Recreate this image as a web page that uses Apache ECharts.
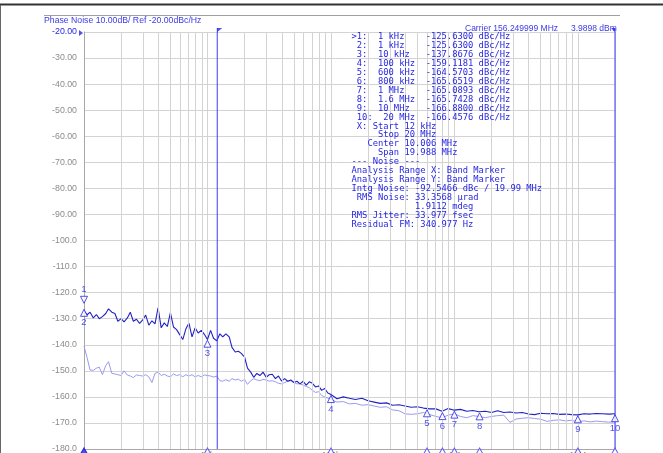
<!DOCTYPE html>
<html><head><meta charset="utf-8">
<script src="https://cdn.jsdelivr.net/npm/echarts@6/dist/echarts.min.js"></script>
<style>html,body{margin:0;padding:0;background:#fff;overflow:hidden}#c{width:663px;height:453px}</style>
</head><body><div id="c"></div>
<script>
// Offset frequencies in kHz
const freqs = [
 1.00,1.06,1.12,1.19,1.26,1.33,1.41,1.50,1.58,1.68,1.78,1.88,2.00,2.11,2.24,2.37,2.51,2.66,2.82,2.99,
 3.16,3.35,3.55,3.76,3.98,4.22,4.47,4.73,5.01,5.31,5.62,5.96,6.31,6.68,7.08,7.50,7.94,8.41,8.91,9.44,
 10.0,10.6,11.2,11.9,12.6,13.3,14.1,15.0,15.8,16.8,17.8,18.8,20.0,21.1,22.4,23.7,25.1,26.6,28.2,29.9,
 31.6,33.5,35.5,37.6,39.8,42.2,44.7,47.3,50.1,53.1,56.2,59.6,63.1,66.8,70.8,75.0,79.4,84.1,89.1,94.4,
 100,112,126,141,158,178,200,224,251,282,316,355,398,447,501,562,631,708,794,891,
 1000,1120,1260,1410,1580,1780,2000,2240,2510,2820,3160,3550,3980,4470,5010,5620,6310,7080,7940,8910,
 10000,11200,12600,14100,15800,17800,20000
];
// Measured trace (dBc/Hz)
const mainTrace = [
 -127.0,-128.5,-127.5,-129.7,-128.4,-130.0,-129.2,-128.0,-126.2,-127.5,-128.0,-131.0,-130.0,-131.2,-129.8,-127.5,-131.0,-130.2,-131.8,-130.5,
 -128.6,-132.5,-130.8,-132.0,-125.8,-133.5,-131.6,-133.0,-127.7,-133.2,-134.2,-136.1,-138.0,-134.0,-131.7,-137.0,-133.5,-135.5,-134.5,-136.0,
 -138.0,-134.5,-137.5,-138.5,-135.8,-137.0,-135.8,-137.0,-141.0,-142.8,-142.5,-143.3,-144.8,-149.0,-150.5,-152.5,-151.0,-151.8,-150.5,-152.5,
 -151.5,-151.3,-153.0,-152.0,-153.9,-153.0,-154.0,-153.5,-154.5,-154.0,-155.0,-154.0,-155.5,-154.2,-154.8,-156.2,-155.8,-157.5,-156.8,-158.5,
 -159.1,-160.7,-160.0,-160.5,-161.0,-160.5,-161.5,-162.0,-162.5,-162.3,-163.2,-163.0,-163.5,-164.0,-163.8,-164.3,-164.6,-164.6,-165.5,-164.5,
 -165.1,-164.8,-165.5,-165.2,-165.7,-165.5,-166.0,-165.3,-166.0,-165.8,-166.2,-166.0,-166.6,-166.8,-166.3,-166.5,-166.4,-166.7,-166.6,-166.8,
 -166.9,-166.5,-166.6,-166.4,-166.5,-166.6,-166.5
];
// Reference (memory) trace (dBc/Hz)
const refTrace = [
 -140.5,-145.0,-149.7,-149.8,-149.0,-148.6,-151.5,-148.0,-146.5,-151.0,-151.2,-151.5,-151.8,-150.0,-151.6,-152.0,-152.6,-151.6,-151.8,-152.0,
 -151.5,-152.3,-154.5,-151.0,-150.5,-151.8,-151.3,-152.0,-152.3,-151.2,-151.8,-151.5,-152.3,-151.5,-152.0,-151.5,-152.3,-151.8,-152.3,-151.6,
 -151.8,-152.0,-152.4,-152.0,-153.8,-154.0,-153.4,-154.0,-153.0,-153.5,-153.2,-154.0,-153.3,-155.2,-153.8,-153.0,-153.5,-153.8,-153.3,-153.5,
 -154.0,-153.8,-154.2,-154.8,-155.0,-154.5,-154.0,-153.8,-154.5,-155.0,-155.0,-155.5,-156.0,-156.5,-157.5,-158.3,-158.0,-159.5,-160.0,-160.5,
 -161.0,-162.0,-161.8,-162.7,-162.5,-163.2,-163.0,-163.5,-164.0,-163.8,-165.0,-165.3,-166.5,-166.7,-166.5,-166.0,-166.8,-167.5,-168.0,-167.0,
 -166.5,-167.5,-168.0,-167.2,-167.5,-168.0,-167.5,-167.2,-167.0,-169.8,-168.5,-168.2,-168.0,-168.3,-168.6,-169.4,-169.0,-168.8,-169.2,-169.0,
 -169.5,-169.2,-169.6,-169.3,-169.5,-169.7,-169.6
];
const markerFreqs = [1,1,10,100,600,800,1000,1600,10000,20000];
const markerValues = [-125.63,-125.63,-137.8676,-159.1181,-164.5703,-165.6519,-165.0893,-165.7428,-166.88,-166.4576];
const markerFreqLabels = ['1 kHz','1 kHz','10 kHz','100 kHz','600 kHz','800 kHz','1 MHz','1.6 MHz','10 MHz','20 MHz'];
const xTickLabels = {1:'1k',10:'10k',100:'100k',1000:'1M',10000:'10M'};
const bandStart = 12, bandStop = 20000;
const noiseLines = [
 ' X: Start 12 kHz',
 '     Stop 20 MHz',
 '   Center 10.006 MHz',
 '     Span 19.988 MHz',
 '--- Noise ---',
 'Analysis Range X: Band Marker',
 'Analysis Range Y: Band Marker',
 'Intg Noise: -92.5466 dBc / 19.99 MHz',
 ' RMS Noise: 33.3568 \u00b5rad',
 '            1.9112 mdeg',
 'RMS Jitter: 33.977 fsec',
 'Residual FM: 340.977 Hz'
];
const headerText = 'Phase Noise 10.00dB/ Ref -20.00dBc/Hz';
const carrierText = 'Carrier 156.249999 MHz';
const powerText = '3.9898 dBm';

const BLUE = '#2727e2';
const BAND = '#3b3bff';
const GRID = '#d3d3d3';
const SANS = '"Liberation Sans", Arial, sans-serif';

const markerLines = markerFreqs.map((f, i) => {
  const pre = (i === 0 ? '>' : ' ') + (i + 1) + ':';
  return (pre + '  ' + markerFreqLabels[i]).padEnd(14) + markerValues[i].toFixed(4) + ' dBc/Hz';
});
const infoText = markerLines.concat(noiseLines).join('\n');

const minorFreqs = [];
[1, 10, 100, 1000, 10000].forEach(d => { for (let m = 2; m <= 9; m++) { if (m * d < 20000) minorFreqs.push(m * d); } });

const chart = echarts.init(document.getElementById('c'), null, {renderer: 'canvas'});
const upTri = 'path://M5,0 L10,10 L0,10 Z';
const downTri = 'path://M0,0 L10,0 L5,10 Z';

const bandSeries = [bandStart, bandStop].map(f => ({
  type: 'line', name: 'band', z: 5, silent: true, clip: false,
  data: [[f, -180], [f, -20]], showSymbol: false, symbol: 'none',
  lineStyle: {color: BAND, width: 1}
}));

chart.setOption({
  animation: false,
  backgroundColor: '#fff',
  grid: {left: 84, right: 48, top: 32, bottom: 4, containLabel: false, outerBoundsMode: 'none'},
  xAxis: {
    type: 'log', logBase: 10, min: 1, max: 20000,
    axisLine: {show: true, lineStyle: {color: '#a8a8a8'}},
    axisTick: {show: false},
    splitLine: {show: true, lineStyle: {color: GRID, width: 1}},
    minorTick: {show: false}, minorSplitLine: {show: false},
    axisLabel: {show: true, margin: 2, color: '#888', fontFamily: SANS, fontSize: 8.5,
      formatter: v => xTickLabels[Math.round(v)] || ''}
  },
  yAxis: {
    type: 'value', min: -180, max: -20, interval: 10,
    axisLine: {show: true, lineStyle: {color: '#a8a8a8'}},
    axisTick: {show: false},
    splitLine: {show: true, lineStyle: {color: GRID, width: 1}},
    axisLabel: {margin: 7, fontFamily: SANS, fontSize: 8.8,
      color: v => (Number(v) === -20 ? BLUE : '#8c8c8c'),
      formatter: v => (v >= -90 ? v.toFixed(2) : v.toFixed(1))}
  },
  series: [
    {type: 'line', name: 'grid', data: [], z: 1, silent: true,
     markLine: {silent: true, symbol: ['none', 'none'], label: {show: false},
       lineStyle: {color: GRID, width: 1, type: 'solid'},
       data: minorFreqs.map(f => ({xAxis: f}))}},
    {type: 'line', name: 'Memory', data: freqs.map((f, i) => [f, refTrace[i]]), z: 3,
     showSymbol: false, symbol: 'none', lineStyle: {color: '#9a9af2', width: 1}},
    {type: 'line', name: 'Data', data: freqs.map((f, i) => [f, mainTrace[i]]), z: 4,
     showSymbol: false, symbol: 'none', lineStyle: {color: '#2222c4', width: 1.1}},
    ...bandSeries,
    {type: 'scatter', name: 'markers', z: 6, clip: false, silent: true,
     data: markerFreqs.map((f, i) => ({
       value: [f, markerValues[i]],
       symbol: i === 0 ? downTri : upTri,
       symbolOffset: i === 0 ? [0, -7.5] : [0, i === 1 ? 5.5 : 4.5],
       label: {position: i === 0 ? 'top' : 'bottom'}
     })),
     symbolSize: [7, 7],
     itemStyle: {color: '#fff', borderColor: BLUE, borderWidth: 1},
     label: {show: true, formatter: p => String(p.dataIndex + 1), color: BLUE,
       fontFamily: SANS, fontSize: 9.5, distance: 1}},
    {type: 'scatter', name: 'axisMarkers', z: 6, clip: false, silent: true,
     data: markerFreqs.map((f, i) => ({
       value: [f, -180],
       itemStyle: i === 0 ? {color: BLUE, borderColor: BLUE} : {color: '#fff', borderColor: BAND}
     })).reverse(),
     symbol: upTri, symbolSize: [9, 8], symbolOffset: [0, 3],
     itemStyle: {borderWidth: 1}},
    {type: 'scatter', name: 'flags', z: 7, clip: false, silent: true,
     data: [
       {value: [1, -20], symbol: 'path://M0,0 L8,5 L0,10 Z', symbolSize: [4, 6], symbolOffset: [-3, 1]},
       {value: [bandStart, -20], symbol: 'path://M0,0 L10,0 L0,8 Z', symbolSize: [5, 4], symbolOffset: [2.5, -2]},
       {value: [bandStop, -20], symbol: 'path://M10,0 L0,0 L10,8 Z', symbolSize: [4, 4], symbolOffset: [-2, -2]}
     ],
     itemStyle: {color: BLUE}}
  ],
  graphic: [
    {type: 'line', shape: {x1: 0, y1: 4.5, x2: 663, y2: 4.5}, style: {stroke: '#333', lineWidth: 2}},
    {type: 'line', shape: {x1: 0.5, y1: 5, x2: 0.5, y2: 453}, style: {stroke: '#666', lineWidth: 1}},
    {type: 'line', shape: {x1: 44, y1: 15.5, x2: 620, y2: 15.5}, style: {stroke: '#a0a0a0', lineWidth: 1}},
    {type: 'line', shape: {x1: 217.3, y1: 28, x2: 217.3, y2: 32}, style: {stroke: BAND, lineWidth: 1}},
    {type: 'line', shape: {x1: 615, y1: 28, x2: 615, y2: 32}, style: {stroke: BAND, lineWidth: 1}},
    {type: 'text', style: {x: 44, y: 21, text: headerText, font: '8.7px ' + SANS, fill: '#3a3ae6', verticalAlign: 'middle'}},
    {type: 'text', style: {x: 465, y: 29, text: carrierText, font: '8.5px ' + SANS, fill: '#3a3ae6', verticalAlign: 'middle'}},
    {type: 'text', style: {x: 571, y: 29, text: powerText, font: '8.5px ' + SANS, fill: '#3a3ae6', verticalAlign: 'middle'}},
    {type: 'text', z: 10, style: {x: 351.5, y: 32.5, text: infoText, font: '8.8px "DejaVu Sans Mono", monospace',
      fill: BLUE, lineHeight: 8.93, verticalAlign: 'top'}}
  ]
});
</script>
</body></html>
